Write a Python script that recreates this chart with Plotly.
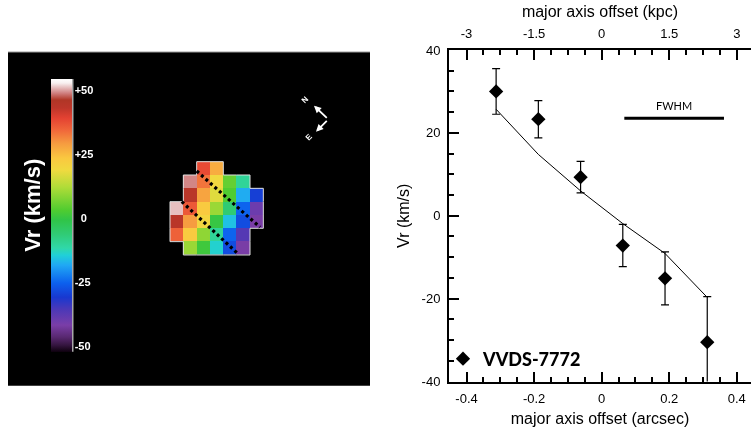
import numpy as np
import plotly.graph_objects as go

nan = np.nan

# ---------------- velocity field (km/s) on the 7x7 spaxel grid, top row first ----------------
vel_map = [
    [nan, nan, 38, 27, nan, nan, nan],
    [nan, 49, 33, 19, 5, -10, nan],
    [nan, 44, 28, 17, 3, -18, -30],
    [51, 36, 23, 10, -6, -25, -40],
    [44, 29, 20, 0, -16, -28, -42],
    [35, 23, 9, -10, -25, -37, nan],
    [nan, 10, 1, -14, -28, -42, nan],
]
cbar_ticks = [-50, -25, 0, 25, 50]
cbar_labels = ["-50", "-25", "\u20070", "+25", "+50"]
vel_min, vel_max = -52.3, 54.3

# colour table: (velocity, colour)
vel_colours = [
    (-52.3, "#0d000d"), (-49.6, "#351540"), (-46.5, "#582870"), (-41.8, "#7a3ea8"),
    (-35.5, "#4a38b8"), (-30.9, "#1838d0"), (-25.4, "#0c60ee"), (-18.4, "#20a8f4"),
    (-14.5, "#20d0d8"), (-11.7, "#30d8a8"), (-6.6, "#30cc78"), (-0.8, "#30c448"),
    (3.1, "#50cc30"), (12.1, "#b0dc38"), (18.75, "#f0da40"), (23.4, "#fac840"),
    (29.3, "#f69a40"), (34.4, "#f0663a"), (39.0, "#e44232"), (43.0, "#bd362a"),
    (46.1, "#b03626"), (48.8, "#d08080"), (52.7, "#f8f0f0"), (54.3, "#ffffff"),
]

# slit (major axis) boundaries, in spaxel units (column, row)
slit_a = ([1.5, 6.25], [0.2, 4.42])
slit_b = ([0.38, 4.62], [2.5, 6.43])

# compass, spaxel units
compass_origin = (11.37, -3.68)
compass_north = (10.30, -4.70)
compass_east = (10.45, -2.75)

# ---------------- major-axis rotation curve ----------------
offset_arcsec = [-0.3125, -0.1875, -0.0625, 0.0625, 0.1875, 0.3125]
vr_obs = [30.0, 23.3, 9.3, -7.2, -15.1, -30.5]
vr_err = [5.5, 4.5, 3.8, 5.1, 6.4, 11.0]
vr_model = [25.7, 14.8, 6.0, -1.9, -9.1, -19.7]
kpc_per_arcsec = 7.5

fwhm_start = 0.067
fwhm_arcsec = 0.295
fwhm_level = 23.5

arcsec_ticks = [-0.4, -0.2, 0, 0.2, 0.4]
arcsec_labels = ["-0.4", "-0.2", "0", "0.2", "0.4"]
kpc_ticks = [-3, -1.5, 0, 1.5, 3]
kpc_labels = ["-3", "-1.5", "0", "1.5", "3"]
vr_ticks = [-40, -20, 0, 20, 40]
vr_labels = ["-40", "-20", "0", "20", "40"]

W, H = 751, 432
FONT = "Liberation Sans"


def px_x(x):
    return x / W


def px_y(y):
    return 1 - y / H


z = np.array(vel_map, dtype=float)
nr, nc = z.shape
span = vel_max - vel_min
colorscale = [[(v - vel_min) / span, c] for v, c in vel_colours]

fig = go.Figure()

# velocity map
fig.add_trace(go.Heatmap(
    z=z, x=list(range(nc)), y=list(range(nr)),
    xaxis="x2", yaxis="y2",
    colorscale=colorscale, zmin=vel_min, zmax=vel_max,
    hoverinfo="skip", showlegend=False,
    colorbar=dict(
        x=px_x(51), xanchor="left", xpad=0,
        y=px_y(79), yanchor="top", ypad=0,
        len=(351.7 - 79) / H, lenmode="fraction",
        thickness=21, thicknessmode="pixels",
        outlinewidth=0, ticks="",
        tickvals=cbar_ticks, ticktext=cbar_labels,
        tickfont=dict(family=FONT, size=11, color="white", weight="bold"),
    ),
))

# outline of the observed region
valid = ~np.isnan(z)


def empty(r, c):
    return not (0 <= r < nr and 0 <= c < nc and valid[r, c])


ox, oy = [], []
for r in range(nr):
    for c in range(nc):
        if not valid[r, c]:
            continue
        if empty(r - 1, c):
            ox += [c - 0.5, c + 0.5, None]; oy += [r - 0.5, r - 0.5, None]
        if empty(r + 1, c):
            ox += [c - 0.5, c + 0.5, None]; oy += [r + 0.5, r + 0.5, None]
        if empty(r, c - 1):
            ox += [c - 0.5, c - 0.5, None]; oy += [r - 0.5, r + 0.5, None]
        if empty(r, c + 1):
            ox += [c + 0.5, c + 0.5, None]; oy += [r - 0.5, r + 0.5, None]
fig.add_trace(go.Scatter(x=ox, y=oy, xaxis="x2", yaxis="y2", mode="lines",
                         line=dict(color="#e0e0e0", width=1),
                         hoverinfo="skip", showlegend=False))

# slit boundaries
for sx, sy in (slit_a, slit_b):
    fig.add_trace(go.Scatter(x=sx, y=sy, xaxis="x2", yaxis="y2", mode="lines",
                             line=dict(color="black", width=3.2, dash="3px,3px"),
                             hoverinfo="skip", showlegend=False))

# rotation curve: model and data
fig.add_trace(go.Scatter(x=offset_arcsec, y=vr_model, mode="lines",
                         line=dict(color="black", width=1),
                         hoverinfo="skip", showlegend=False))
fig.add_trace(go.Scatter(
    x=offset_arcsec, y=vr_obs, mode="markers", name="VVDS-7772",
    marker=dict(symbol="diamond", size=11, color="black"),
    error_y=dict(type="data", array=vr_err, visible=True,
                 color="black", thickness=1.2, width=4),
))
# same data in kpc on the top axis
fig.add_trace(go.Scatter(x=[o * kpc_per_arcsec for o in offset_arcsec], y=vr_obs,
                         xaxis="x3", yaxis="y", mode="markers", opacity=0,
                         hoverinfo="skip", showlegend=False))

# map panel background
fig.add_shape(type="rect", xref="x2 domain", yref="y2 domain", x0=0, x1=1, y0=0, y1=1,
              fillcolor="black", line=dict(width=0), layer="below")
fig.add_shape(type="line", xref="x2 domain", yref="y2 domain", x0=0, x1=1, y0=1, y1=1,
              line=dict(color="#9a9a9a", width=1))
# colour bar edge
fig.add_shape(type="line", xref="paper", yref="paper",
              x0=px_x(72.5), x1=px_x(72.5), y0=px_y(79), y1=px_y(351.7),
              line=dict(color="#a8a8a8", width=2))

# FWHM bar
fig.add_shape(type="line", xref="x", yref="y",
              x0=fwhm_start, x1=fwhm_start + fwhm_arcsec, y0=fwhm_level, y1=fwhm_level,
              line=dict(color="black", width=3))
fig.add_annotation(x=fwhm_start + fwhm_arcsec / 2, y=fwhm_level, xref="x", yref="y",
                   text="FWHM", showarrow=False, yanchor="bottom", yshift=4,
                   font=dict(family="Lato", size=11, color="black"))

# compass
for tip, label in ((compass_north, "N"), (compass_east, "E")):
    fig.add_annotation(x=tip[0], y=tip[1], ax=compass_origin[0], ay=compass_origin[1],
                       xref="x2", yref="y2", axref="x2", ayref="y2",
                       text="", showarrow=True, arrowhead=2, arrowsize=0.8,
                       arrowwidth=1.8, arrowcolor="white", standoff=0, startstandoff=0)
    lx = compass_origin[0] + 1.6 * (tip[0] - compass_origin[0])
    ly = compass_origin[1] + 1.45 * (tip[1] - compass_origin[1])
    fig.add_annotation(x=lx, y=ly, xref="x2", yref="y2", text=label, showarrow=False,
                       textangle=-45, xanchor="center", yanchor="middle",
                       font=dict(family=FONT, size=8, color="white", weight="bold"))

# colour bar title
fig.add_annotation(x=px_x(33), y=px_y(205.7), xref="paper", yref="paper",
                   xanchor="center", yanchor="middle",
                   text="Vr (km/s)", showarrow=False, textangle=-90,
                   font=dict(family=FONT, size=22, color="white", weight="bold"))

axis_common = dict(
    automargin=False,
    showline=True, linecolor="black", linewidth=2, mirror=False,
    ticks="inside", ticklen=10, tickwidth=2, tickcolor="black",
    showgrid=False, zeroline=False,
    tickfont=dict(family=FONT, size=13, color="black"),
    title_font=dict(family=FONT, size=16, color="black"),
)

x_lo, x_hi = -0.452, 0.442
fig.update_layout(
    width=W, height=H,
    margin=dict(l=0, r=0, t=0, b=0, autoexpand=False),
    paper_bgcolor="white", plot_bgcolor="white",
    showlegend=True,
    legend=dict(x=px_x(443), y=px_y(359), xanchor="left", yanchor="middle",
                bgcolor="rgba(0,0,0,0)", borderwidth=0,
                font=dict(family="Lato", size=18, color="black", weight=900),
                itemwidth=30),
    xaxis=dict(domain=[px_x(449), 1], range=[x_lo, x_hi], anchor="y",
               tickvals=arcsec_ticks, ticktext=arcsec_labels,
               minor=dict(dtick=0.05, tick0=0, ticks="inside", ticklen=5, tickwidth=1.5,
                          tickcolor="black"),
               title=dict(text="major axis offset (arcsec)", standoff=8),
               ticklabelstandoff=4, **axis_common),
    yaxis=dict(domain=[px_y(381.5), px_y(50)], range=[-40, 40], anchor="x",
               tickvals=vr_ticks, ticktext=vr_labels,
               minor=dict(dtick=5, tick0=0, ticks="inside", ticklen=5, tickwidth=1.5,
                          tickcolor="black"),
               title=dict(text="Vr (km/s)", standoff=8),
               ticklabelstandoff=4, **axis_common),
    xaxis3=dict(overlaying="x", side="top", anchor="y",
                range=[x_lo * kpc_per_arcsec, x_hi * kpc_per_arcsec],
                tickvals=kpc_ticks, ticktext=kpc_labels,
                minor=dict(dtick=0.375, tick0=0, ticks="inside", ticklen=5, tickwidth=1.5,
                           tickcolor="black"),
                title=dict(text="major axis offset (kpc)", standoff=4),
                ticklabelstandoff=5, **axis_common),
    xaxis2=dict(domain=[px_x(8), px_x(370)], range=[-12.65, 14.5], anchor="y2",
                visible=False, showgrid=False, zeroline=False, automargin=False),
    yaxis2=dict(domain=[px_y(385.7), px_y(52)], range=[16.31, -8.73], anchor="x2",
                visible=False, showgrid=False, zeroline=False, automargin=False),
)

fig.write_html("out.html")
